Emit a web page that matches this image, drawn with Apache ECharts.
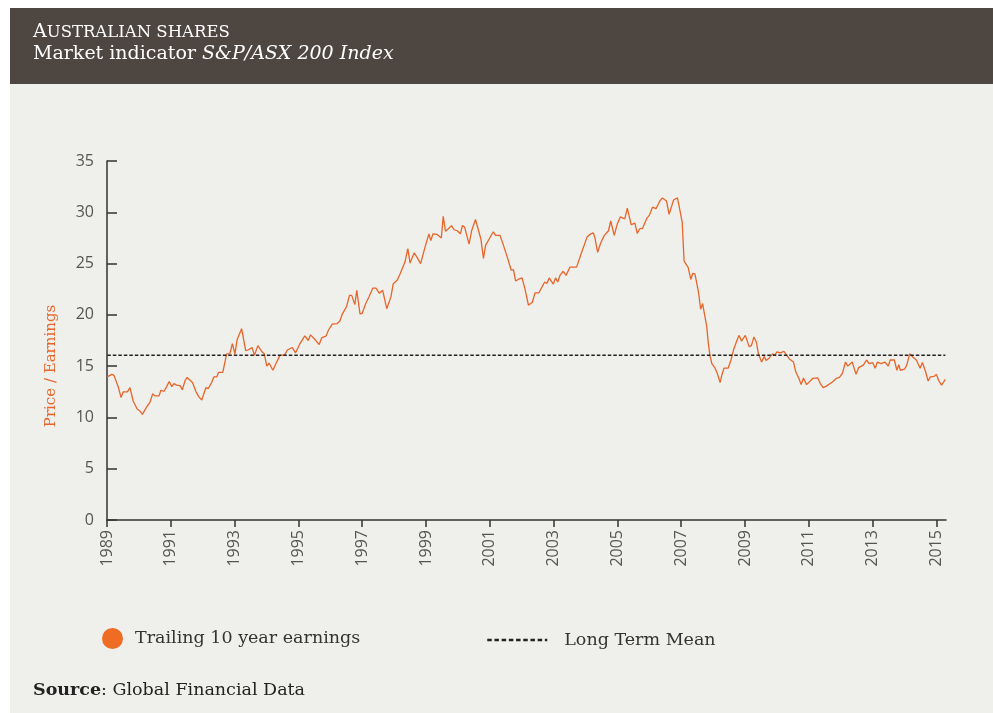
<!DOCTYPE html>
<html>
<head>
<meta charset="utf-8">
<script src="https://cdn.jsdelivr.net/npm/echarts@6/dist/echarts.min.js"></script>
<style>
html, body { margin: 0; padding: 0; background: #ffffff; }
#c { width: 993px; height: 713px; }
</style>
</head>
<body>
<div id="c"></div>
<script>
// ---- Data ----
const years = [
  1989.01, 1989.15, 1989.22, 1989.35, 1989.44, 1989.51, 1989.64, 1989.72, 1989.82, 1989.95,
  1990.03, 1990.11, 1990.24, 1990.35, 1990.43, 1990.50, 1990.63, 1990.69, 1990.79, 1990.87, 1990.95,
  1991.03, 1991.10, 1991.18, 1991.29, 1991.36, 1991.45, 1991.51, 1991.68, 1991.79, 1991.88, 1991.97,
  1992.02, 1992.10, 1992.17, 1992.28, 1992.35, 1992.44, 1992.50, 1992.63, 1992.75, 1992.85, 1992.93,
  1993.01, 1993.08, 1993.22, 1993.35, 1993.43, 1993.55, 1993.62, 1993.73, 1993.86, 1993.93,
  1994.01, 1994.08, 1994.20, 1994.29, 1994.34, 1994.42, 1994.57, 1994.66, 1994.81, 1994.91,
  1995.05, 1995.20, 1995.31, 1995.38, 1995.52, 1995.65, 1995.73, 1995.87, 1995.94,
  1996.06, 1996.22, 1996.30, 1996.38, 1996.51, 1996.60, 1996.67, 1996.77, 1996.83, 1996.93,
  1997.00, 1997.11, 1997.21, 1997.33, 1997.43, 1997.54, 1997.64, 1997.77, 1997.90, 1997.97,
  1998.10, 1998.19, 1998.25, 1998.34, 1998.43, 1998.50, 1998.63, 1998.72, 1998.83, 1998.89, 1998.97,
  1999.09, 1999.15, 1999.22, 1999.34, 1999.48, 1999.54, 1999.61, 1999.70, 1999.80, 1999.88, 1999.98,
  2000.08, 2000.14, 2000.21, 2000.35, 2000.43, 2000.55, 2000.72, 2000.80, 2000.87, 2000.98,
  2001.11, 2001.18, 2001.32, 2001.42, 2001.47, 2001.55, 2001.67, 2001.74, 2001.81, 2001.89,
  2002.01, 2002.10, 2002.21, 2002.33, 2002.42, 2002.54, 2002.72, 2002.79, 2002.86, 2002.99,
  2003.06, 2003.13, 2003.20, 2003.30, 2003.39, 2003.51, 2003.72, 2003.88,
  2004.05, 2004.14, 2004.24, 2004.29, 2004.38, 2004.47, 2004.58, 2004.72, 2004.79, 2004.90, 2004.99,
  2005.09, 2005.23, 2005.31, 2005.36, 2005.43, 2005.55, 2005.62, 2005.70, 2005.78, 2005.92,
  2006.00, 2006.10, 2006.21, 2006.33, 2006.41, 2006.54, 2006.62, 2006.67, 2006.76, 2006.88, 2006.94,
  2007.03, 2007.09, 2007.22, 2007.30, 2007.36, 2007.43, 2007.54, 2007.61, 2007.67, 2007.80, 2007.85, 2007.90, 2007.96,
  2008.06, 2008.13, 2008.22, 2008.27, 2008.34, 2008.47, 2008.56, 2008.65, 2008.74, 2008.81, 2008.89,
  2009.01, 2009.13, 2009.20, 2009.28, 2009.36, 2009.42, 2009.52, 2009.60, 2009.66, 2009.76, 2009.86, 2009.93,
  2010.00, 2010.11, 2010.22, 2010.28, 2010.39, 2010.52, 2010.59, 2010.69, 2010.76, 2010.83, 2010.93, 2010.99,
  2011.12, 2011.28, 2011.36, 2011.45, 2011.55, 2011.74, 2011.86, 2011.96,
  2012.05, 2012.15, 2012.22, 2012.36, 2012.48, 2012.56, 2012.71, 2012.81, 2012.89,
  2013.00, 2013.08, 2013.15, 2013.26, 2013.39, 2013.49, 2013.55, 2013.68, 2013.76, 2013.82, 2013.87,
  2014.00, 2014.07, 2014.16, 2014.26, 2014.37, 2014.42, 2014.49, 2014.56, 2014.66, 2014.74, 2014.81, 2014.92,
  2015.00, 2015.07, 2015.16, 2015.28
];
const peTrailing10y = [
  13.95, 14.2, 14.1, 13.0, 11.95, 12.5, 12.5, 12.9, 11.6, 10.8,
  10.65, 10.3, 11.0, 11.5, 12.3, 12.1, 12.1, 12.65, 12.55, 13.0, 13.5,
  13.0, 13.3, 13.15, 13.1, 12.7, 13.6, 13.9, 13.4, 12.5, 12.0, 11.7,
  11.85, 12.9, 12.8, 13.4, 13.95, 13.95, 14.4, 14.4, 16.2, 16.2, 17.2,
  16.2, 17.6, 18.65, 16.5, 16.6, 16.8, 16.05, 17.0, 16.4, 16.2,
  15.0, 15.3, 14.6, 15.2, 15.25, 16.05, 16.1, 16.6, 16.8, 16.3,
  17.2, 17.95, 17.5, 18.05, 17.6, 17.1, 17.75, 17.95, 18.5,
  19.1, 19.15, 19.4, 20.1, 20.8, 21.9, 21.9, 21.0, 22.4, 20.1,
  20.15, 21.1, 21.75, 22.6, 22.6, 22.1, 22.4, 20.6, 21.75, 23.0,
  23.4, 24.0, 24.05, 25.15, 26.45, 25.05, 26.05, 25.6, 25.0, 25.05, 26.6,
  27.9, 27.25, 27.9, 27.85, 27.5, 29.6, 28.15, 28.4, 28.7, 28.3, 28.2,
  27.9, 28.7, 28.55, 26.9, 28.2, 29.3, 27.4, 25.5, 26.8, 27.4,
  28.1, 27.75, 27.75, 26.85, 26.85, 25.6, 24.35, 24.4, 23.3, 23.45,
  23.6, 22.55, 20.95, 21.2, 22.15, 22.15, 23.2, 23.05, 23.6, 23.0,
  23.6, 23.2, 23.85, 24.25, 23.85, 24.65, 24.65, 26.1,
  27.6, 27.85, 28.0, 27.6, 26.1, 26.95, 27.7, 28.2, 29.15, 27.75, 28.8,
  29.55, 29.35, 30.4, 30.35, 28.8, 28.95, 27.95, 28.4, 28.4, 29.4,
  29.7, 30.5, 30.35, 31.1, 31.4, 31.1, 29.8, 29.85, 31.2, 31.4, 30.5,
  29.05, 25.25, 24.6, 23.45, 24.05, 24.0, 22.25, 20.55, 21.1, 18.85, 17.2, 16.05, 15.25,
  14.8, 14.3, 13.4, 14.1, 14.8, 14.8, 15.6, 16.7, 17.45, 18.0, 17.45,
  18.0, 16.9, 17.0, 17.85, 17.3, 16.2, 15.4, 15.95, 15.55, 15.8, 16.2, 16.05,
  16.4, 16.3, 16.45, 16.3, 15.7, 15.4, 14.45, 13.8, 13.2, 13.85, 13.2, 13.3,
  13.8, 13.85, 13.3, 12.9, 13.05, 13.45, 13.8, 13.9,
  14.3, 15.4, 15.0, 15.4, 14.2, 14.85, 15.1, 15.6, 15.25,
  15.35, 14.8, 15.4, 15.25, 15.4, 15.0, 15.6, 15.6, 14.6, 15.15, 14.6,
  14.7, 15.1, 16.2, 15.9, 15.6, 15.6, 14.8, 15.35, 14.45, 13.55, 13.95, 14.0,
  14.2, 13.6, 13.15, 13.7
];
const longTermMean = 16.07;
const xTickYears = [1989, 1991, 1993, 1995, 1997, 1999, 2001, 2003, 2005, 2007, 2009, 2011, 2013, 2015];
const seriesNames = ['Trailing 10 year earnings', 'Long Term Mean'];

// ---- Styling ----
const serif = "'DejaVu Serif', 'Liberation Serif', serif";
const sans = "'Open Sans', 'Noto Sans', sans-serif";
const orange = '#e8652a';
const axisColor = '#333333';
const labelColor = '#555555';

const peData = years.map((y, i) => [y, peTrailing10y[i]]);
const meanData = [[years[0], longTermMean], [years[years.length - 1], longTermMean]];

const chart = echarts.init(document.getElementById('c'), null, { renderer: 'canvas' });
chart.setOption({
  animation: false,
  backgroundColor: '#ffffff',
  grid: { left: 107, right: 47, top: 161, bottom: 193, containLabel: false },
  xAxis: {
    type: 'value',
    min: 1989,
    max: 2015.3,
    axisLine: { show: true, lineStyle: { color: axisColor, width: 1.5 } },
    axisTick: { show: true, customValues: xTickYears, length: 7, lineStyle: { color: axisColor, width: 1.5 } },
    axisLabel: {
      customValues: xTickYears, rotate: 90, margin: 10,
      color: labelColor, fontFamily: sans, fontSize: 16,
      formatter: v => String(Math.round(v))
    },
    splitLine: { show: false }
  },
  yAxis: {
    type: 'value',
    min: 0, max: 35, interval: 5,
    axisLine: { show: true, lineStyle: { color: axisColor, width: 1.5 } },
    axisTick: { show: true, inside: true, length: 10, lineStyle: { color: axisColor, width: 1.5 } },
    axisLabel: { margin: 13, color: labelColor, fontFamily: sans, fontSize: 16 },
    splitLine: { show: false }
  },
  legend: [
    {
      data: [{ name: seriesNames[0], icon: 'circle' }],
      left: 97, top: 623,
      itemWidth: 21, itemHeight: 21,
      itemStyle: { color: '#ee6c24' },
      textStyle: { fontFamily: serif, fontSize: 17.5, color: '#333333', padding: [0, 0, 0, 7] },
      selectedMode: false
    },
    {
      data: [{ name: seriesNames[1] }],
      left: 481, top: 626,
      itemWidth: 60, itemHeight: 14,
      itemStyle: { opacity: 0, borderWidth: 0 },
      lineStyle: { color: '#222222', width: 2.5, type: [4.5, 2.7] },
      textStyle: { fontFamily: serif, fontSize: 17.5, color: '#333333', padding: [0, 0, 0, 12] },
      selectedMode: false
    }
  ],
  graphic: [
    { type: 'rect', z: -10, shape: { x: 10, y: 8, width: 983, height: 705 }, style: { fill: '#efefeb' }, silent: true },
    { type: 'rect', z: -9, shape: { x: 10, y: 8, width: 983, height: 76 }, style: { fill: '#4e4641' }, silent: true },
    {
      type: 'text', x: 33, y: 42, silent: true,
      style: {
        text: '{a|A}{b|USTRALIAN SHARES}', verticalAlign: 'bottom',
        rich: {
          a: { fontFamily: serif, fontSize: 19, fill: '#ffffff' },
          b: { fontFamily: serif, fontSize: 16.5, fill: '#ffffff' }
        }
      }
    },
    {
      type: 'text', x: 33, y: 64, silent: true,
      style: {
        text: '{n|Market indicator }{i|S&P/ASX 200 Index}', verticalAlign: 'bottom',
        rich: {
          n: { fontFamily: serif, fontSize: 19, fill: '#ffffff' },
          i: { fontFamily: serif, fontSize: 19, fontStyle: 'italic', fill: '#ffffff' }
        }
      }
    },
    {
      type: 'text', x: 51, y: 366, rotation: Math.PI / 2, silent: true,
      style: { text: 'Price / Earnings', fontFamily: serif, fontSize: 15, fill: orange, align: 'center', verticalAlign: 'middle' }
    },
    {
      type: 'text', x: 33, y: 690, silent: true,
      style: {
        text: '{b|Source}{n|: Global Financial Data}', verticalAlign: 'middle',
        rich: {
          b: { fontFamily: serif, fontSize: 17.5, fontWeight: 'bold', fill: '#222222' },
          n: { fontFamily: serif, fontSize: 17.5, fill: '#222222' }
        }
      }
    }
  ],
  series: [
    {
      name: seriesNames[0], type: 'line', data: peData,
      showSymbol: false, symbol: 'none',
      lineStyle: { color: orange, width: 1.3 },
      itemStyle: { color: '#ee6c24' },
      z: 2
    },
    {
      name: seriesNames[1], type: 'line', data: meanData,
      showSymbol: false, symbol: 'none',
      lineStyle: { color: '#222222', width: 1.5, type: [3.5, 2] },
      itemStyle: { color: '#222222' },
      z: 3
    }
  ]
});
</script>
</body>
</html>
